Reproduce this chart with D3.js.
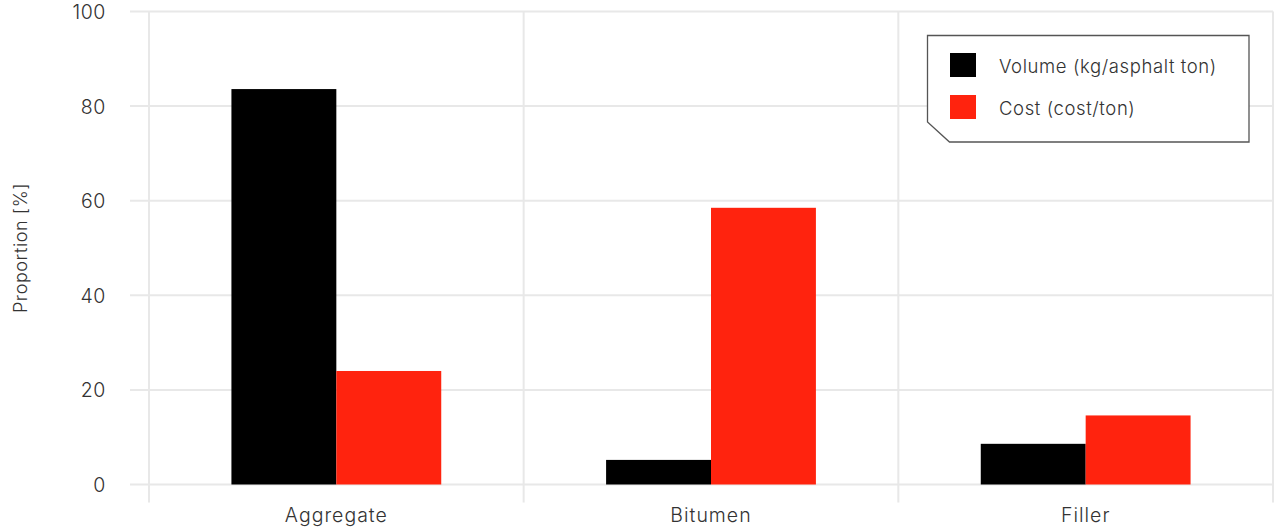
<!DOCTYPE html>
<html>
<head>
<meta charset="utf-8">
<script src="https://cdn.jsdelivr.net/npm/d3@7"></script>
<style>
  html, body { margin: 0; padding: 0; background: #ffffff; }
  svg text { font-family: "Inter", "Noto Sans", sans-serif; font-weight: 300; fill: #333333; }
</style>
</head>
<body>
<svg id="chart" width="1274" height="528"></svg>
<script>
// Material shares of an asphalt mix
const categories = ["Aggregate", "Bitumen", "Filler"];
const seriesNames = ["Volume (kg/asphalt ton)", "Cost (cost/ton)"];
const volumeShare = [83.6, 5.2, 8.6];
const costShare = [24.0, 58.5, 14.6];
const seriesColors = ["#000000", "#ff230e"];
const yTicks = [0, 20, 40, 60, 80, 100];

const series = [volumeShare, costShare];

const svg = d3.select("#chart");
const W = 1274, H = 528;
const margin = { left: 149, right: 1, top: 11.5, bottom: 43.5 };

const x = d3.scaleBand()
  .domain(categories)
  .range([margin.left, W - margin.right])
  .paddingInner(0)
  .paddingOuter(0);

const y = d3.scaleLinear()
  .domain([0, 100])
  .range([H - margin.bottom, margin.top]);

const xSub = d3.scaleBand()
  .domain(d3.range(series.length))
  .range([0, x.bandwidth() * 0.56])
  .padding(0);

const grid = svg.append("g").attr("class", "grid");

// horizontal gridlines
grid.selectAll("line.h")
  .data(yTicks)
  .join("line")
  .attr("class", "h")
  .attr("x1", 130)
  .attr("x2", W - 1)
  .attr("y1", d => y(d))
  .attr("y2", d => y(d))
  .attr("stroke", "#e8e8e8")
  .attr("stroke-width", 2);

// vertical gridlines on band boundaries
const bounds = categories.map(c => x(c)).concat([x(categories[categories.length - 1]) + x.bandwidth()]);
grid.selectAll("line.v")
  .data(bounds)
  .join("line")
  .attr("class", "v")
  .attr("x1", d => d)
  .attr("x2", d => d)
  .attr("y1", y(100))
  .attr("y2", y(0) + 18)
  .attr("stroke", "#e8e8e8")
  .attr("stroke-width", 2);

// bars
const groups = svg.append("g").selectAll("g")
  .data(categories)
  .join("g")
  .attr("transform", c => `translate(${x(c) + (x.bandwidth() - xSub.range()[1]) / 2},0)`);

groups.selectAll("rect")
  .data((c, i) => series.map((s, k) => ({ k, v: s[i] })))
  .join("rect")
  .attr("x", d => xSub(d.k))
  .attr("width", xSub.bandwidth())
  .attr("y", d => y(d.v))
  .attr("height", d => y(0) - y(d.v))
  .attr("fill", d => seriesColors[d.k]);

// y axis labels
const yAxis = d3.axisLeft(y).tickValues(yTicks).tickSize(0).tickPadding(0);
const yg = svg.append("g")
  .attr("transform", `translate(106,0)`)
  .call(yAxis);
yg.select(".domain").remove();
yg.selectAll("text")
  .attr("font-size", 19.5)
  .attr("letter-spacing", 0.6)
  .attr("dy", "0.36em")
  .attr("fill", "#333");

// x axis labels
const xAxis = d3.axisBottom(x).tickSize(0).tickPadding(0);
const xg = svg.append("g")
  .attr("transform", `translate(0,${y(0)})`)
  .call(xAxis);
xg.select(".domain").remove();
xg.selectAll("text")
  .attr("font-size", 19.5)
  .attr("letter-spacing", 1)
  .attr("y", 37)
  .attr("dy", 0)
  .attr("fill", "#333");

// y axis title
svg.append("text")
  .attr("transform", `translate(27,${(y(0) + y(100)) / 2}) rotate(-90)`)
  .attr("text-anchor", "middle")
  .attr("font-size", 18)
  .attr("letter-spacing", 0.6)
  .text("Proportion [%]");

// legend with clipped lower-left corner
const lg = svg.append("g").attr("transform", "translate(927.5,35.5)");
const lw = 321.5, lh = 106.5, cut = 22;
lg.append("path")
  .attr("d", `M0,0 H${lw} V${lh} H${cut} L0,${lh - 20} Z`)
  .attr("fill", "#ffffff")
  .attr("stroke", "#555555")
  .attr("stroke-width", 1.3);

const items = lg.selectAll("g.item")
  .data(seriesNames)
  .join("g")
  .attr("class", "item")
  .attr("transform", (d, i) => `translate(22.5,${17.5 + i * 42})`);

items.append("rect")
  .attr("width", 26)
  .attr("height", 24)
  .attr("fill", (d, i) => seriesColors[i]);

items.append("text")
  .attr("x", 49)
  .attr("y", 20)
  .attr("font-size", 18.5)
  .attr("letter-spacing", 0.6)
  .text(d => d);
</script>
</body>
</html>
